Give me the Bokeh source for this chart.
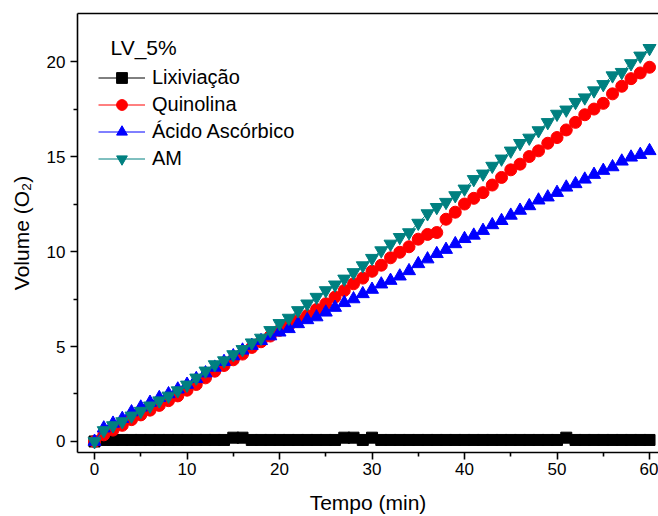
from bokeh.plotting import figure
from bokeh.models import Range1d, FixedTicker, LinearAxis, Legend, LegendItem, Label
from bokeh.embed import file_html
from bokeh.resources import INLINE

# ---- data ----
tempo = [0, 1, 2, 3, 4, 5, 6, 7, 8, 9, 10, 11, 12, 13, 14, 15, 16, 17, 18, 19, 20,
         21, 22, 23, 24, 25, 26, 27, 28, 29, 30, 31, 32, 33, 34, 35, 36, 37, 38, 39, 40,
         41, 42, 43, 44, 45, 46, 47, 48, 49, 50, 51, 52, 53, 54, 55, 56, 57, 58, 59, 60]

lixiviacao = [0.0, 0.08, 0.08, 0.08, 0.08, 0.08, 0.08, 0.08, 0.08, 0.08, 0.08,
              0.08, 0.08, 0.08, 0.08, 0.2, 0.2, 0.08, 0.08, 0.08, 0.08,
              0.08, 0.08, 0.08, 0.08, 0.08, 0.08, 0.2, 0.2, 0.08, 0.2,
              0.08, 0.08, 0.08, 0.08, 0.08, 0.08, 0.08, 0.08, 0.08, 0.08,
              0.08, 0.08, 0.08, 0.08, 0.08, 0.08, 0.08, 0.08, 0.08, 0.08,
              0.2, 0.08, 0.08, 0.08, 0.08, 0.08, 0.08, 0.08, 0.08, 0.08]

quinolina = [0.0, 0.35, 0.6, 0.85, 1.15, 1.4, 1.65, 1.9, 2.15, 2.4,
             2.7, 3.0, 3.35, 3.7, 4.0, 4.3, 4.6, 4.95, 5.25, 5.55,
             5.85, 6.1, 6.37, 6.63, 6.95, 7.25, 7.6, 7.95, 8.3, 8.6,
             8.96, 9.28, 9.67, 9.96, 10.25, 10.65, 10.9, 11.0, 11.7, 12.07,
             12.5, 12.8, 13.1, 13.5, 13.9, 14.3, 14.6, 15.0, 15.3, 15.7,
             16.0, 16.4, 16.8, 17.2, 17.5, 17.8, 18.3, 18.7, 19.1, 19.4,
             19.7]

acido_ascorbico = [0.0, 0.7, 0.95, 1.2, 1.55, 1.8, 2.05, 2.3, 2.5, 2.75,
                   3.0, 3.3, 3.6, 3.9, 4.2, 4.5, 4.8, 5.05, 5.3, 5.55,
                   5.75, 5.93, 6.19, 6.4, 6.55, 6.8, 7.05, 7.3, 7.5, 7.77,
                   8.0, 8.28, 8.47, 8.7, 8.98, 9.35, 9.6, 9.88, 10.1, 10.4,
                   10.67, 10.85, 11.1, 11.4, 11.62, 11.9, 12.16, 12.4, 12.7, 12.86,
                   13.1, 13.38, 13.56, 13.8, 14.05, 14.26, 14.45, 14.75, 14.96, 15.1,
                   15.3]

am = [0.0, 0.58, 0.84, 1.05, 1.35, 1.6, 1.88, 2.15, 2.4, 2.68,
      2.98, 3.35, 3.72, 4.05, 4.26, 4.58, 4.85, 5.2, 5.45, 5.85,
      6.22, 6.5, 6.9, 7.25, 7.6, 7.95, 8.25, 8.56, 8.9, 9.26,
      9.65, 10.05, 10.4, 10.75, 11.0, 11.5, 12.0, 12.33, 12.6, 12.95,
      13.3, 13.8, 14.09, 14.5, 14.88, 15.3, 15.7, 15.98, 16.37, 16.8,
      17.24, 17.46, 17.86, 18.1, 18.47, 18.8, 19.26, 19.44, 19.9, 20.3,
      20.7]

x_ticks = [0, 10, 20, 30, 40, 50, 60]
x_minor = [5, 15, 25, 35, 45, 55]
y_ticks = [0, 5, 10, 15, 20]
y_minor = [2.5, 7.5, 12.5, 17.5]

series_names = ["Lixiviação", "Quinolina", "Ácido Ascórbico", "AM"]
legend_title = "LV_5%"

FONT = "Liberation Sans"

p = figure(width=658, height=516, output_backend="svg", toolbar_location=None,
           x_range=Range1d(-1.84, 60.97), y_range=Range1d(-0.58, 22.53),
           min_border_left=77, min_border_right=0, min_border_top=13,
           min_border_bottom=64,
           x_axis_label="Tempo (min)", y_axis_label="Volume (O₂)")
p.outline_line_color = None
p.grid.visible = False
p.background_fill_color = "white"
p.border_fill_color = "white"

for ax, tk, mn in ((p.xaxis[0], x_ticks, x_minor), (p.yaxis[0], y_ticks, y_minor)):
    ax.ticker = FixedTicker(ticks=tk, minor_ticks=mn)
    ax.axis_line_width = 1.6
    ax.axis_line_color = "black"
    ax.major_tick_line_width = 1.6
    ax.minor_tick_line_width = 1.6
    ax.major_tick_out = 7
    ax.major_tick_in = 0
    ax.minor_tick_out = 4
    ax.minor_tick_in = 0
    ax.major_label_text_font = FONT
    ax.major_label_text_font_size = "17px"
    ax.major_label_text_color = "black"
    ax.axis_label_text_font = FONT
    ax.axis_label_text_font_size = "21px"
    ax.axis_label_text_font_style = "normal"
    ax.axis_label_text_color = "black"

p.xaxis[0].major_label_standoff = 3
p.xaxis[0].axis_label_standoff = 13
p.yaxis[0].major_label_standoff = 5
p.yaxis[0].axis_label_standoff = 11

top = LinearAxis(ticker=FixedTicker(ticks=[]), major_label_text_font_size="0px",
                 major_tick_out=0, minor_tick_out=0, axis_line_width=1.6,
                 axis_line_color="black")
p.add_layout(top, "above")

styles = [
    (lixiviacao, "black", "square", 11),
    (quinolina, "#FF0000", "circle", 12),
    (acido_ascorbico, "#0000FF", "triangle", 13),
    (am, "#008080", "inverted_triangle", 13),
]

items = []
for name, (ys, col, mk, sz) in zip(series_names, styles):
    ln = p.line(tempo, ys, line_color=col, line_width=1)
    sc = p.scatter(tempo, ys, marker=mk, size=sz, fill_color=col, line_color=col)
    items.append(LegendItem(label=name, renderers=[ln, sc]))

legend = Legend(items=items, location=(21, 280), padding=0, margin=0, spacing=0,
                glyph_height=27, glyph_width=47, label_height=27, label_standoff=7,
                label_text_font=FONT, label_text_font_size="20px",
                label_text_color="black",
                border_line_color=None, background_fill_alpha=0)
p.add_layout(legend)

p.add_layout(Label(x=1.73, y=20.74, text=legend_title, text_baseline="middle",
                   text_font=FONT, text_font_size="21px", text_color="black"))

open("out.html", "w").write(file_html(p, INLINE))
